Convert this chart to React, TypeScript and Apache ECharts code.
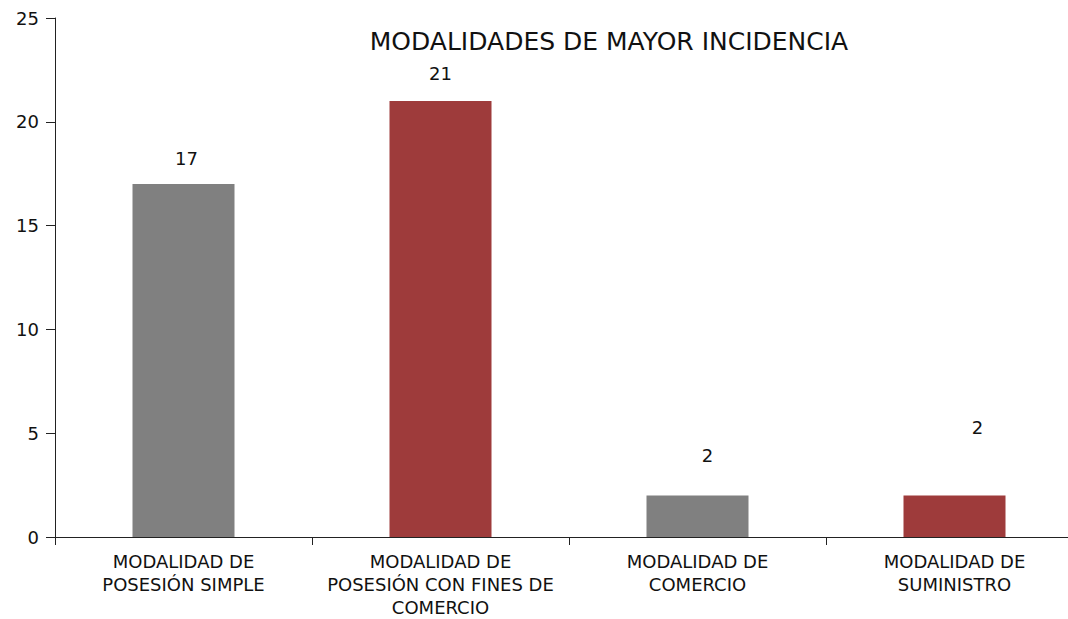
import React, { useEffect, useRef } from "react";
import * as echarts from "echarts";

const categories = [
  "MODALIDAD DE\nPOSESIÓN SIMPLE",
  "MODALIDAD DE\nPOSESIÓN CON FINES DE\nCOMERCIO",
  "MODALIDAD DE\nCOMERCIO",
  "MODALIDAD DE\nSUMINISTRO",
];
const values = [17, 21, 2, 2];
const barColors = ["#808080", "#9e3b3b", "#808080", "#9e3b3b"];
const labelOffsets = [
  [3, -12],
  [0, -14],
  [10, -26],
  [23, -54],
];
const yTicks = { min: 0, max: 25, interval: 5 };
const titleText = "MODALIDADES DE MAYOR INCIDENCIA";

const FONT = "DejaVu Sans";

export default function App() {
  const ref = useRef<HTMLDivElement>(null);
  useEffect(() => {
    document.body.style.margin = "0";
    document.body.style.overflow = "hidden";
    const chart = echarts.init(ref.current!, null, { renderer: "svg" });
    chart.setOption({
      animation: false,
      textStyle: { fontFamily: FONT },
      title: {
        text: titleText,
        left: 604,
        textAlign: "center",
        top: 24,
        textStyle: { fontFamily: FONT, fontSize: 25, fontWeight: "normal", color: "#111" },
      },
      grid: { left: 55, right: 7, top: 18, bottom: 82, containLabel: false },
      xAxis: {
        type: "category",
        data: categories,
        axisLine: { lineStyle: { color: "#222", width: 1 } },
        axisTick: { show: true, length: 8, lineStyle: { color: "#222" } },
        axisLabel: { fontFamily: FONT, fontSize: 18, color: "#111", lineHeight: 23, margin: 13, interval: 0 },
      },
      yAxis: {
        type: "value",
        min: yTicks.min,
        max: yTicks.max,
        interval: yTicks.interval,
        splitLine: { show: false },
        axisLine: { show: true, lineStyle: { color: "#222", width: 1 } },
        axisTick: { show: true, length: 9, lineStyle: { color: "#222" } },
        axisLabel: { fontFamily: FONT, fontSize: 18, color: "#111", margin: 16 },
      },
      series: [
        {
          type: "bar",
          barWidth: 102,
          data: values.map((v, i) => ({
            value: v,
            itemStyle: { color: barColors[i] },
            label: { offset: labelOffsets[i] },
          })),
          label: {
            show: true,
            position: "top",
            fontFamily: FONT,
            fontSize: 18,
            color: "#111",
          },
        },
      ],
    });
    return () => chart.dispose();
  }, []);
  return (
    <div style={{ width: 1068, height: 619, overflow: "hidden", position: "relative" }}>
      <div ref={ref} style={{ width: 1090, height: 619 }} />
    </div>
  );
}
